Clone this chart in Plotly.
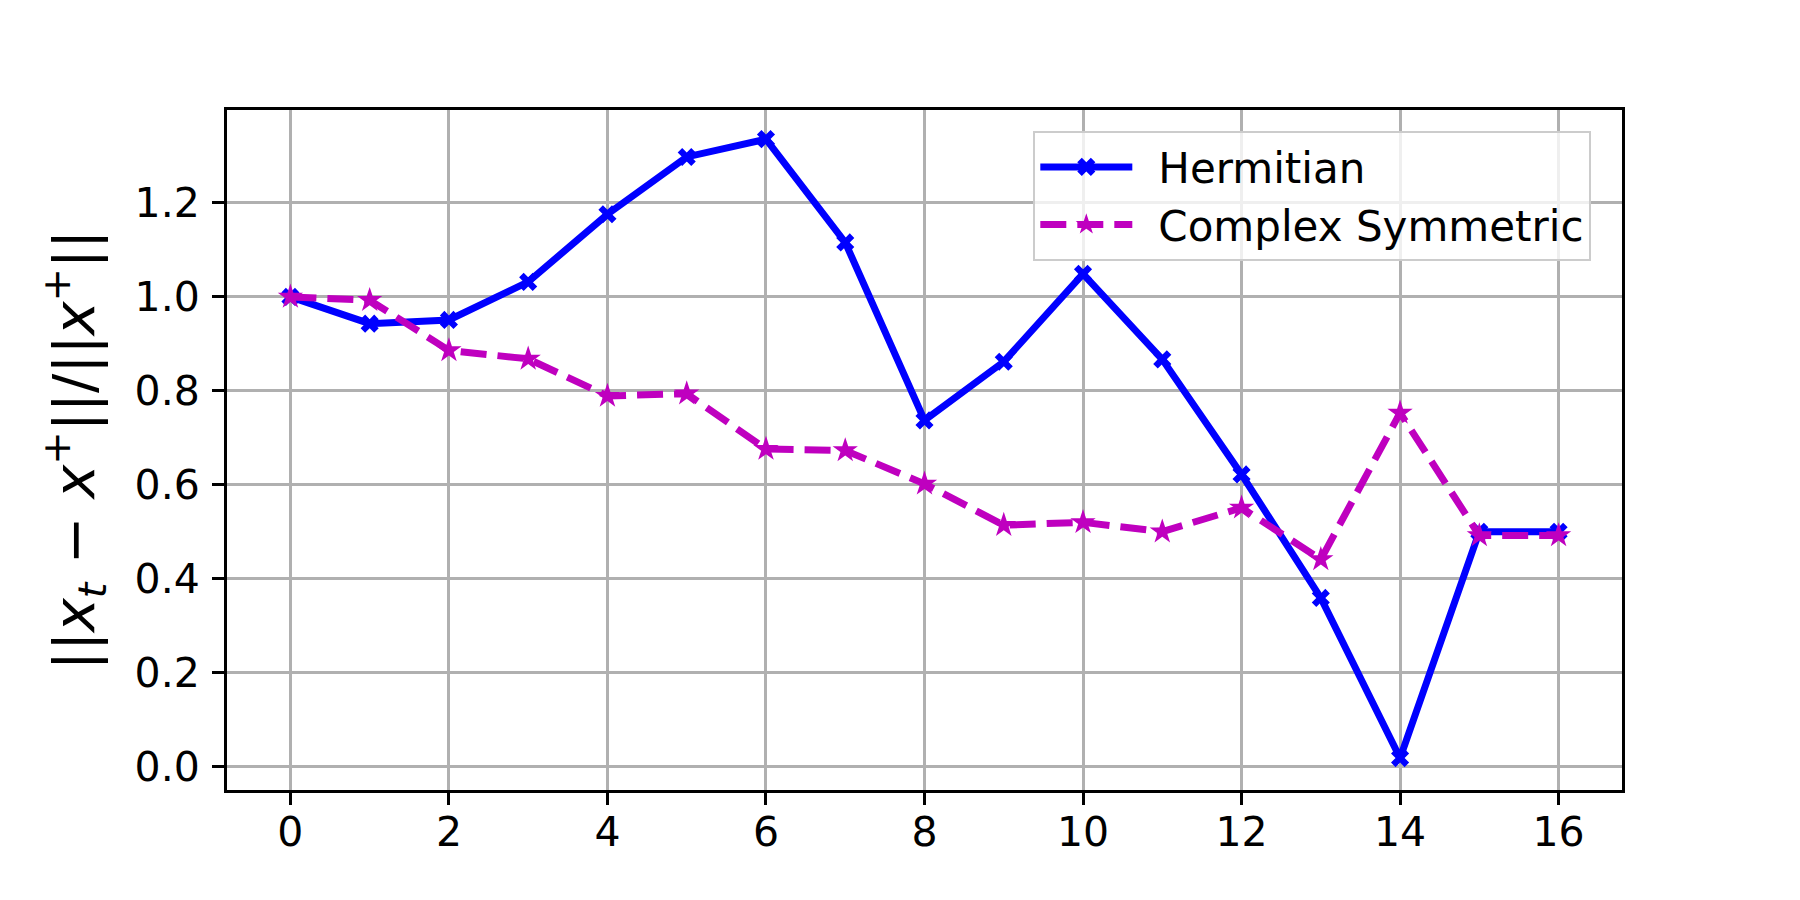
import plotly.graph_objects as go

iterations = list(range(17))
hermitian = [1.000, 0.943, 0.951, 1.032, 1.176, 1.298, 1.336, 1.116, 0.737, 0.862,
             1.049, 0.867, 0.622, 0.359, 0.018, 0.500, 0.500]
complex_symmetric = [1.000, 0.993, 0.886, 0.868, 0.789, 0.794, 0.676, 0.673, 0.602, 0.514,
                     0.520, 0.500, 0.551, 0.441, 0.753, 0.492, 0.492]
x_ticks = [0, 2, 4, 6, 8, 10, 12, 14, 16]
y_ticks = [0.0, 0.2, 0.4, 0.6, 0.8, 1.0, 1.2]

FONT = "DejaVu Sans"
GAP = "\u2002"

fig = go.Figure()
fig.add_trace(go.Scatter(
    x=iterations, y=hermitian, mode="lines+markers", name=GAP + "Hermitian",
    line=dict(color="#0000ff", width=7),
    marker=dict(symbol="x", size=16, color="#0000ff", line=dict(width=0)),
))
fig.add_trace(go.Scatter(
    x=iterations, y=complex_symmetric, mode="lines+markers", name=GAP + "Complex Symmetric",
    line=dict(color="#bf00bf", width=7, dash="26px,11px"),
    marker=dict(symbol="star", size=19, color="#bf00bf", line=dict(width=0)),
))

axis_common = dict(
    showgrid=True, gridcolor="#b0b0b0", gridwidth=2.5,
    showline=True, linecolor="black", linewidth=3, mirror=True,
    ticks="outside", ticklen=12, tickwidth=3, tickcolor="black",
    zeroline=False, automargin=False,
    tickfont=dict(family=FONT, size=41, color="black"),
)

fig.update_xaxes(range=[-0.8, 16.8], tickvals=x_ticks,
                 ticktext=[str(v) for v in x_ticks],
                 ticklabelstandoff=-8, **axis_common)
fig.update_yaxes(range=[-0.05, 1.398], tickvals=y_ticks,
                 ticktext=[f"{v:.1f}" for v in y_ticks],
                 ticklabelstandoff=4,
                 title=dict(
                     text="||<i>x</i><sub><i>t</i></sub> \u2212 <i>x</i><sup>+</sup>||/||<i>x</i><sup>+</sup>||",
                     font=dict(family=FONT, size=57, color="black"),
                     standoff=22),
                 **axis_common)

fig.update_layout(
    width=1800, height=900,
    margin=dict(l=219, r=186, t=102, b=118),
    paper_bgcolor="white", plot_bgcolor="white",
    font=dict(family=FONT, color="black"),
    showlegend=True,
    legend=dict(
        x=0.978, y=0.969, xanchor="right", yanchor="top",
        bgcolor="rgba(255,255,255,0.8)", bordercolor="#cccccc", borderwidth=2,
        font=dict(family=FONT, size=42, color="black"),
        itemwidth=92,
    ),
)

fig.write_html("out.html")
